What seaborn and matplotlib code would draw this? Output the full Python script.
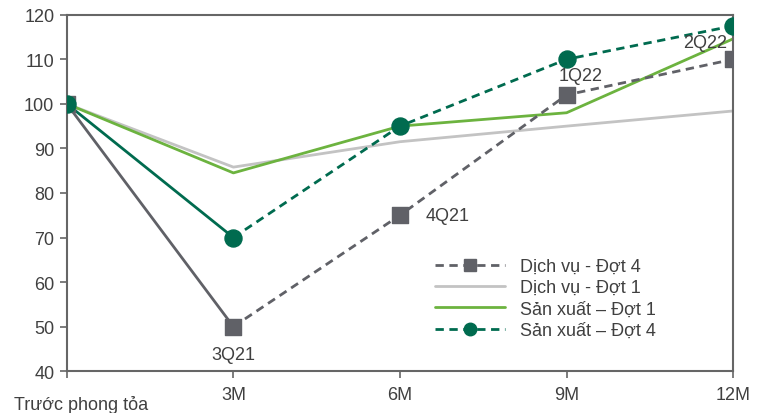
import matplotlib
matplotlib.use("Agg")
import matplotlib.pyplot as plt
import seaborn as sns
import pandas as pd
from matplotlib.lines import Line2D

categories = ["Trước phong tỏa", "3M", "6M", "9M", "12M"]
dv_dot4 = [100, 50, 75, 102, 110]
dv_dot1 = [100, 85.8, 91.5, 95, 98.4]
sx_dot1 = [100, 84.5, 95, 98, 114.6]
sx_dot4 = [100, 70, 95, 110, 117.5]
dv4_labels = {1: "3Q21", 2: "4Q21", 3: "1Q22", 4: "2Q22"}

C_DV4 = "#606167"
C_DV1 = "#c3c3c3"
C_SX1 = "#6cb33f"
C_SX4 = "#006b4f"
FS = 13

sns.set_theme(style="white")
plt.rcParams["font.family"] = ["Liberation Sans", "DejaVu Sans"]

fig, ax = plt.subplots(figsize=(7.59, 4.14), dpi=100)
fig.subplots_adjust(left=0.088, right=0.966, top=0.962, bottom=0.101)

x = list(range(len(categories)))
df = pd.DataFrame({"x": x, "dv4": dv_dot4, "dv1": dv_dot1, "sx1": sx_dot1, "sx4": sx_dot4})

sns.lineplot(data=df, x="x", y="dv1", color=C_DV1, lw=2, ax=ax)
sns.lineplot(data=df, x="x", y="sx1", color=C_SX1, lw=2, ax=ax)
# solid first segment for wave-4 series
sns.lineplot(data=df.iloc[:2], x="x", y="dv4", color=C_DV4, lw=2, ax=ax)
sns.lineplot(data=df.iloc[:2], x="x", y="sx4", color=C_SX4, lw=2, ax=ax)
sns.lineplot(data=df.iloc[1:], x="x", y="dv4", color=C_DV4, lw=2, ls=(0, (3, 2)), ax=ax)
sns.lineplot(data=df.iloc[1:], x="x", y="sx4", color=C_SX4, lw=2, ls=(0, (3, 2)), ax=ax)
ax.scatter(df["x"], df["dv4"], marker="s", s=120, color=C_DV4, zorder=5)
ax.scatter(df["x"], df["sx4"], marker="o", s=150, color=C_SX4, zorder=6)

offsets = {1: (0, -20), 2: (34, 0), 3: (10, 14), 4: (-20, 12)}
for i, lab in dv4_labels.items():
    dx, dy = offsets[i]
    ax.annotate(lab, (x[i], dv_dot4[i]), xytext=(dx, dy), textcoords="offset points",
                ha="center", va="center", fontsize=FS, color="#404040", zorder=7)

ax.set_xlim(0, 4)
ax.set_ylim(40, 120)
ax.set_yticks(range(40, 121, 10))
ax.set_xticks(x)
ax.set_xticklabels([""] + categories[1:])
ax.text(0.085, -0.093, categories[0], transform=ax.get_xaxis_transform(), ha="center", va="center",
        fontsize=FS, color="#404040")
ax.set_xlabel("")
ax.set_ylabel("")
for s in ax.spines.values():
    s.set_color("#666666")
    s.set_linewidth(1.5)
ax.tick_params(axis="both", which="both", direction="out", length=5, width=1.2, color="#666666",
               labelsize=FS, labelcolor="#404040", left=True, bottom=True)
ax.tick_params(axis="x", pad=6)
ax.tick_params(axis="y", pad=4)

handles = [
    Line2D([], [], color=C_DV4, lw=2, ls=(0, (3, 2)), marker="s", ms=9),
    Line2D([], [], color=C_DV1, lw=2),
    Line2D([], [], color=C_SX1, lw=2),
    Line2D([], [], color=C_SX4, lw=2, ls=(0, (3, 2)), marker="o", ms=9),
]
labels = ["Dịch vụ - Đợt 4", "Dịch vụ - Đợt 1", "Sản xuất – Đợt 1", "Sản xuất – Đợt 4"]
ax.legend(handles, labels, loc="upper left", bbox_to_anchor=(0.552, 0.318), frameon=False,
          fontsize=FS, labelcolor="#404040", handlelength=3.9, handletextpad=0.8,
          labelspacing=0.24, borderpad=0, borderaxespad=0)

fig.savefig("out.png", dpi=100)
